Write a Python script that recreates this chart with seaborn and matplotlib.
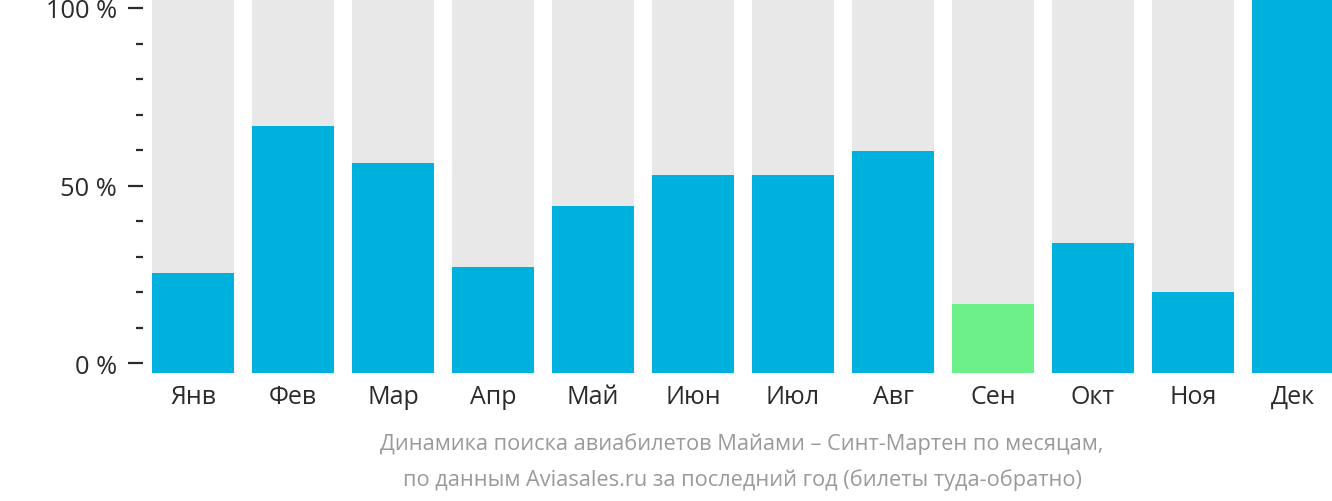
import matplotlib
matplotlib.use('Agg')
import matplotlib.pyplot as plt
import seaborn as sns
import pandas as pd
from matplotlib.ticker import FixedLocator, FuncFormatter

months = ['Янв', 'Фев', 'Мар', 'Апр', 'Май', 'Июн', 'Июл', 'Авг', 'Сен', 'Окт', 'Ноя', 'Дек']
values = [26.7, 66.0, 56.1, 28.3, 44.7, 52.9, 52.9, 59.4, 18.4, 34.8, 21.7, 100.0]
highlight = 'Сен'
caption = ['Динамика поиска авиабилетов Майами – Синт-Мартен по месяцам,',
           'по данным Aviasales.ru за последний год (билеты туда-обратно)']

sns.set_theme(style='white')
plt.rcParams['font.family'] = ['Open Sans', 'DejaVu Sans']

W, H = 1332, 502
fig = plt.figure(figsize=(W / 100, H / 100), dpi=100)
ax = fig.add_axes([152 / W, (H - 374) / H, (1332 - 152) / W, 374 / H])

df = pd.DataFrame({'month': months, 'value': values, 'full': [100.0] * len(months)})
sns.barplot(data=df, x='month', y='full', color='#e8e8e8', width=0.82, saturation=1,
            linewidth=0, ax=ax)
palette = {m: ('#6cf08a' if m == highlight else '#00b1dd') for m in months}
sns.barplot(data=df, x='month', y='value', hue='month', palette=palette, legend=False,
            width=0.82, saturation=1, linewidth=0, ax=ax)
ax.set_xlim(-0.41, 11.39)
ax.set_ylim(0, 100)
ax.set_yticks([])
ax.set_xlabel('')
ax.set_ylabel('')
for s in ax.spines.values():
    s.set_visible(False)
ax.tick_params(axis='x', length=0, pad=8, labelsize=18, labelcolor='#2b2b2b')

# tick axis
ax2 = fig.add_axes([143 / W, (H - 374) / H, 0.001, 374 / H])
ax2.set_ylim(-100 * 10 / 355, 100 + 100 * 9 / 355)
ax2.patch.set_visible(False)
for s in ax2.spines.values():
    s.set_visible(False)
ax2.set_xticks([])
ax2.yaxis.set_major_locator(FixedLocator([0, 50, 100]))
ax2.yaxis.set_minor_locator(FixedLocator([10, 20, 30, 40, 60, 70, 80, 90]))
ax2.yaxis.set_major_formatter(FuncFormatter(lambda v, p: f'{int(round(v))} %'))
ax2.tick_params(axis='y', which='major', length=10.8, width=1.6, color='#2b2b2b',
                pad=8, labelsize=18.3, labelcolor='#2b2b2b', left=True)
ax2.tick_params(axis='y', which='minor', length=5, width=1.6, color='#2b2b2b', left=True)

fig.text(742 / W, 1 - 444 / H, caption[0], ha='center', va='center', color='#9a9a9a', fontsize=15.7)
fig.text(742 / W, 1 - 480 / H, caption[1], ha='center', va='center', color='#9a9a9a', fontsize=15.7)

fig.savefig('out.png', dpi=100)
